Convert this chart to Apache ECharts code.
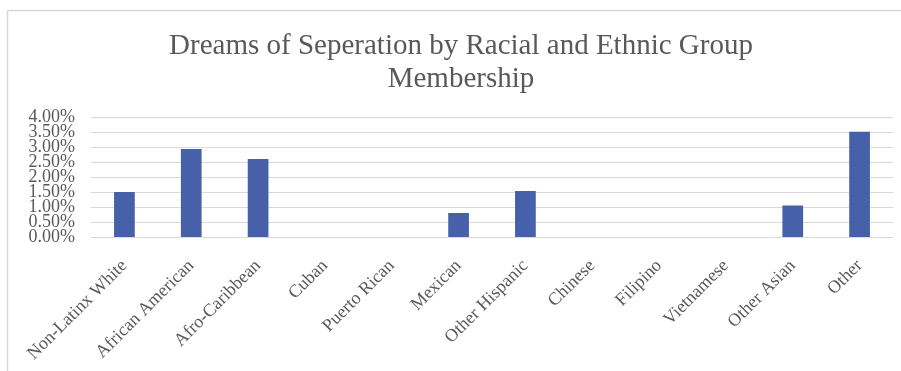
<!DOCTYPE html>
<html>
<head>
<meta charset="utf-8">
<script src="https://cdn.jsdelivr.net/npm/echarts@6/dist/echarts.min.js"></script>
<style>
  html, body { margin: 0; padding: 0; background: #fff; }
  #chart { width: 901px; height: 371px; }
</style>
</head>
<body>
<div id="chart"></div>
<script>
// groups along the x axis
var groups = ['Non-Latinx White', 'African American', 'Afro-Caribbean', 'Cuban', 'Puerto Rican',
  'Mexican', 'Other Hispanic', 'Chinese', 'Filipino', 'Vietnamese', 'Other Asian', 'Other'];
// share reporting dreams of seperation, in percent
var shares = [1.50, 2.93, 2.60, 0, 0, 0.80, 1.53, 0, 0, 0, 1.05, 3.51];
// y tick labels, bottom to top
var yTicks = ['0.00%', '0.50%', '1.00%', '1.50%', '2.00%', '2.50%', '3.00%', '3.50%', '4.00%'];

var chart = echarts.init(document.getElementById('chart'));
var serif = 'Liberation Serif';

var option = {
  backgroundColor: '#fff',
  animation: false,
  graphic: [{
    type: 'rect',
    shape: { x: 7.5, y: 10.5, width: 1000, height: 1000 },
    style: { fill: 'none', stroke: '#d9d9d9', lineWidth: 1.5 },
    silent: true
  }, {
    // title, centred on the original chart area (wider than the crop)
    type: 'text',
    x: 461,
    y: 30,
    style: {
      text: 'Dreams of Seperation by Racial and Ethnic Group\nMembership',
      align: 'center',
      verticalAlign: 'top',
      font: '29px "Liberation Serif"',
      lineHeight: 33,
      fill: '#595959'
    },
    silent: true
  }],
  grid: { left: 91, right: 8, top: 117, bottom: 134 },
  xAxis: {
    type: 'category',
    data: groups,
    axisLine: { lineStyle: { color: '#d9d9d9', width: 1 } },
    axisTick: { show: false },
    axisLabel: {
      rotate: 45,
      interval: 0,
      margin: 26,
      fontFamily: serif,
      fontSize: 18,
      color: '#595959'
    }
  },
  yAxis: [{
    type: 'value',
    min: 0,
    max: 4,
    interval: 0.5,
    axisLine: { show: false },
    axisTick: { show: false },
    axisLabel: { show: false },
    splitLine: { lineStyle: { color: '#d9d9d9', width: 1 } }
  }, {
    // label-only axis so every tick label stays visible
    type: 'category',
    position: 'left',
    data: yTicks,
    boundaryGap: false,
    axisLine: { show: false },
    axisTick: { show: false },
    splitLine: { show: false },
    axisLabel: {
      interval: 0,
      margin: 16,
      fontFamily: serif,
      fontSize: 18,
      color: '#595959'
    }
  }],
  series: [{
    type: 'bar',
    yAxisIndex: 0,
    data: shares,
    barWidth: '31%',
    itemStyle: { color: '#4661a9' }
  }]
};

chart.setOption(option);
</script>
</body>
</html>
